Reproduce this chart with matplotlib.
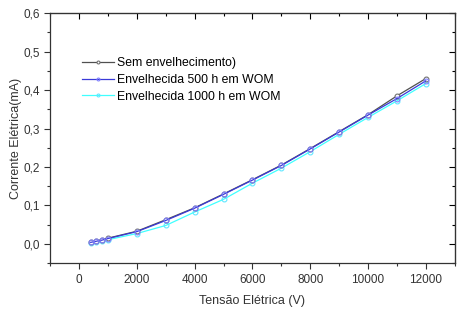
import matplotlib.pyplot as plt
from matplotlib.ticker import MultipleLocator, FuncFormatter

plt.rcParams['font.family'] = ['Liberation Sans', 'DejaVu Sans']

tensao = [400, 600, 800, 1000, 2000, 3000, 4000, 5000, 6000, 7000, 8000, 9000, 10000, 11000, 12000]
sem_env = [0.005, 0.008, 0.011, 0.015, 0.033, 0.063, 0.094, 0.130, 0.167, 0.205, 0.248, 0.292, 0.336, 0.385, 0.430]
env_500 = [0.004, 0.007, 0.010, 0.014, 0.032, 0.061, 0.093, 0.129, 0.166, 0.204, 0.247, 0.291, 0.335, 0.378, 0.424]
env_1000 = [0.002, 0.004, 0.007, 0.011, 0.027, 0.048, 0.083, 0.116, 0.158, 0.197, 0.240, 0.285, 0.329, 0.372, 0.417]

labels = ['Sem envelhecimento)', 'Envelhecida 500 h em WOM', 'Envelhecida 1000 h em WOM']

fig, ax = plt.subplots(figsize=(4.57, 3.14), dpi=100)
fig.subplots_adjust(left=0.11, right=0.995, top=0.958, bottom=0.162)

ax.plot(tensao, sem_env, '-o', color='#505050', lw=0.9, ms=3.5, mfc='white',
        mec='#707070', mew=0.8, label=labels[0], zorder=3)
ax.plot(tensao, env_500, '-o', color='#3a3ad8', lw=0.9, ms=3.5, mfc='none',
        mec='#8080ff', mew=0.8, label=labels[1], zorder=4)
ax.plot(tensao, env_1000, '-o', color='#40ffff', lw=0.9, ms=3.5, mfc='none',
        mec='#60e8ff', mew=0.8, label=labels[2], zorder=2)

ax.set_xlim(-1000, 13000)
ax.set_ylim(-0.05, 0.6)
ax.xaxis.set_major_locator(MultipleLocator(2000))
ax.xaxis.set_minor_locator(MultipleLocator(1000))
ax.yaxis.set_major_locator(MultipleLocator(0.1))
ax.yaxis.set_minor_locator(MultipleLocator(0.05))
ax.yaxis.set_major_formatter(FuncFormatter(lambda v, p: f'{v:.1f}'.replace('.', ',')))

ax.tick_params(which='both', direction='out', top=False, right=False, labelsize=8.5, colors='#333333')
ax.tick_params(which='major', length=4, width=0.8)
ax.tick_params(which='minor', length=2.5, width=0.8)
ax2 = ax.secondary_xaxis('top')
ax2.xaxis.set_major_locator(MultipleLocator(2000))
ax2.xaxis.set_minor_locator(MultipleLocator(1000))
ax2.tick_params(which='both', direction='in', labeltop=False)
ax2.tick_params(which='major', length=4, width=0.8)
ax2.tick_params(which='minor', length=2.5, width=0.8)
ay2 = ax.secondary_yaxis('right')
ay2.yaxis.set_major_locator(MultipleLocator(0.1))
ay2.yaxis.set_minor_locator(MultipleLocator(0.05))
ay2.tick_params(which='both', direction='in', labelright=False)
ay2.tick_params(which='major', length=4, width=0.8)
ay2.tick_params(which='minor', length=2.5, width=0.8)
for s in ax.spines.values():
    s.set_linewidth(0.9)
    s.set_color('#333333')

ax.set_xlabel('Tensão Elétrica (V)', fontsize=9, color='#333333', labelpad=7)
ax.set_ylabel('Corrente Elétrica(mA)', fontsize=9, color='#333333', labelpad=1)

ax.legend(loc='upper left', bbox_to_anchor=(0.078, 0.825), frameon=False, fontsize=8.8,
          handlelength=2.6, handletextpad=0.25, labelspacing=0.4, borderaxespad=0,
          borderpad=0, markerscale=0.6)

fig.savefig('out.png', dpi=100)
